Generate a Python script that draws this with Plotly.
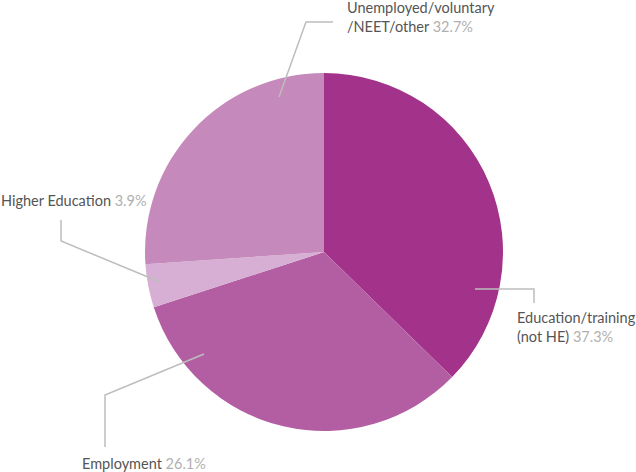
import plotly.graph_objects as go

W, H = 636, 472

# Slice sizes as drawn (clockwise from 12 o'clock)
categories = ["Education/training (not HE)", "Employment", "Higher Education", "Unemployed/voluntary/NEET/other"]
slice_values = [37.3, 32.7, 3.9, 26.1]
# Percentages as printed on the labels
label_names = ["Education/training<br>(not HE)", "Employment", "Higher Education", "Unemployed/voluntary<br>/NEET/other"]
label_pcts = ["37.3%", "26.1%", "3.9%", "32.7%"]
colors = ["#a3338a", "#b35ea2", "#d8afd4", "#c589bb"]

def px(x):
    return x / W

def py(y):
    return 1 - y / H

cx, cy, r = 324, 252, 179

fig = go.Figure(go.Pie(
    labels=categories,
    values=slice_values,
    sort=False,
    direction="clockwise",
    rotation=0,
    textinfo="none",
    hoverinfo="label+value",
    marker=dict(colors=colors, line=dict(width=0)),
    domain=dict(x=[px(cx - r), px(cx + r)], y=[py(cy + r), py(cy - r)]),
    showlegend=False,
))

line_style = dict(color="#bdbdbd", width=1.5)
leaders = [
    [(475, 289), (534, 289), (534, 303)],
    [(204, 354), (105, 395), (105, 447)],
    [(160, 282), (61, 241), (61, 220)],
    [(279, 97), (306, 22), (333, 22)],
]
shapes = []
for pts in leaders:
    path = "M " + " L ".join(f"{px(x)},{py(y)}" for x, y in pts)
    shapes.append(dict(type="path", path=path, xref="paper", yref="paper", line=line_style))

label_pos = [
    (515, 307, "top"),
    (80, 463, "middle"),
    (-1, 200, "middle"),
    (345, -3, "top"),
]
annotations = []
for name, pct, (x, y, ya) in zip(label_names, label_pcts, label_pos):
    annotations.append(dict(
        x=px(x), y=py(y), xref="paper", yref="paper",
        xanchor="left", yanchor=ya, align="left", showarrow=False,
        text=f"{name} <span style='color:#b0b0b0'>{pct}</span>",
        font=dict(family="Lato", size=14.5, color="#555555"),
    ))

fig.update_layout(
    width=W, height=H,
    margin=dict(l=0, r=0, t=0, b=0),
    paper_bgcolor="white", plot_bgcolor="white",
    shapes=shapes, annotations=annotations,
)

fig.write_html("out.html", config={"displayModeBar": False},
               post_script="document.body.style.margin='0';document.body.style.padding='0';")
